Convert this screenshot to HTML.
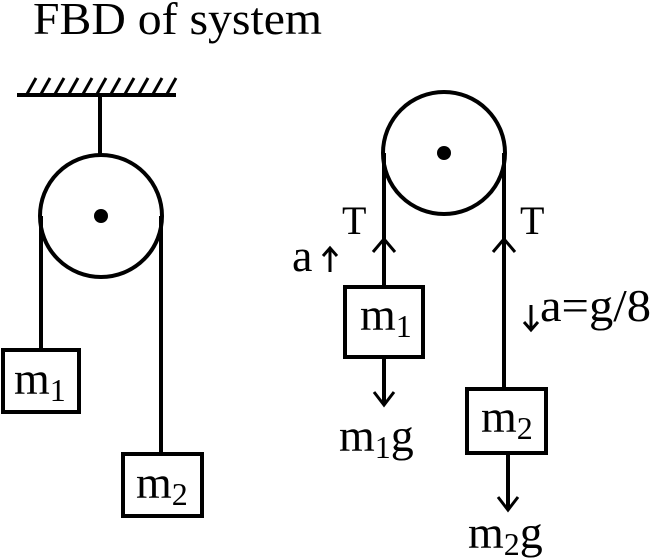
<!DOCTYPE html>
<html><head><style>body{margin:0;background:#fff}svg{display:block}text{font-family:"Liberation Serif",serif;fill:#000}</style></head>
<body>
<svg width="651" height="560" viewBox="0 0 651 560">
<text x="33" y="34" font-size="45" textLength="289" lengthAdjust="spacingAndGlyphs">FBD of system</text>
<g stroke="#000" stroke-width="4" fill="none">
<line x1="17" y1="95" x2="176" y2="95"/>
<g stroke-width="3">
<line x1="27" y1="94" x2="36" y2="78"/><line x1="41" y1="94" x2="50" y2="78"/><line x1="55" y1="94" x2="64" y2="78"/><line x1="69" y1="94" x2="78" y2="78"/><line x1="83" y1="94" x2="92" y2="78"/><line x1="97" y1="94" x2="106" y2="78"/><line x1="111" y1="94" x2="120" y2="78"/><line x1="125" y1="94" x2="134" y2="78"/><line x1="139" y1="94" x2="148" y2="78"/><line x1="153" y1="94" x2="162" y2="78"/><line x1="167" y1="94" x2="176" y2="78"/>
</g>
<line x1="100" y1="95" x2="100" y2="155"/>
<circle cx="101" cy="216" r="61"/>
<line x1="41" y1="216" x2="41" y2="350"/>
<line x1="161" y1="216" x2="161" y2="454"/>
<rect x="3" y="350" width="76" height="62"/>
<rect x="123" y="454" width="79" height="62"/>
<circle cx="444" cy="153" r="61"/>
<line x1="384" y1="153" x2="384" y2="287"/>
<line x1="504" y1="153" x2="504" y2="389"/>
<rect x="345" y="287" width="78" height="70"/>
<rect x="467" y="389" width="79" height="64"/>
<line x1="384" y1="357" x2="384" y2="405"/>
<line x1="508" y1="453" x2="508" y2="510"/>
<g stroke-width="3">
<polyline points="373,252 384,239 395,252"/>
<polyline points="493,252 504,239 515,252"/>
<polyline points="374,392 384,405 394,392"/>
<polyline points="498,497 508,510 518,497"/>
<line x1="330" y1="272" x2="330" y2="248"/><polyline points="323,256 330,248 337,256"/>
<line x1="531" y1="305" x2="531" y2="330"/><polyline points="524,322 531,330 538,322"/>
</g>
</g>
<circle cx="101" cy="216" r="7"/>
<circle cx="444" cy="153" r="7"/>
<text x="14" y="394" font-size="46">m<tspan font-size="32" dy="7">1</tspan></text>
<text x="136" y="498" font-size="46">m<tspan font-size="32" dy="7">2</tspan></text>
<text x="360" y="330" font-size="46">m<tspan font-size="32" dy="7">1</tspan></text>
<text x="481" y="432" font-size="46">m<tspan font-size="32" dy="7">2</tspan></text>
<text x="339" y="451" font-size="46">m<tspan font-size="32" dy="7">1</tspan><tspan dy="-7">g</tspan></text>
<text x="468" y="548" font-size="46">m<tspan font-size="32" dy="7">2</tspan><tspan dy="-7">g</tspan></text>
<text x="342" y="234" font-size="40">T</text>
<text x="520" y="234" font-size="40">T</text>
<text x="292" y="271" font-size="46">a</text>
<text x="540" y="321" font-size="46" textLength="111" lengthAdjust="spacingAndGlyphs">a=g/8</text>
</svg>
</body></html>
